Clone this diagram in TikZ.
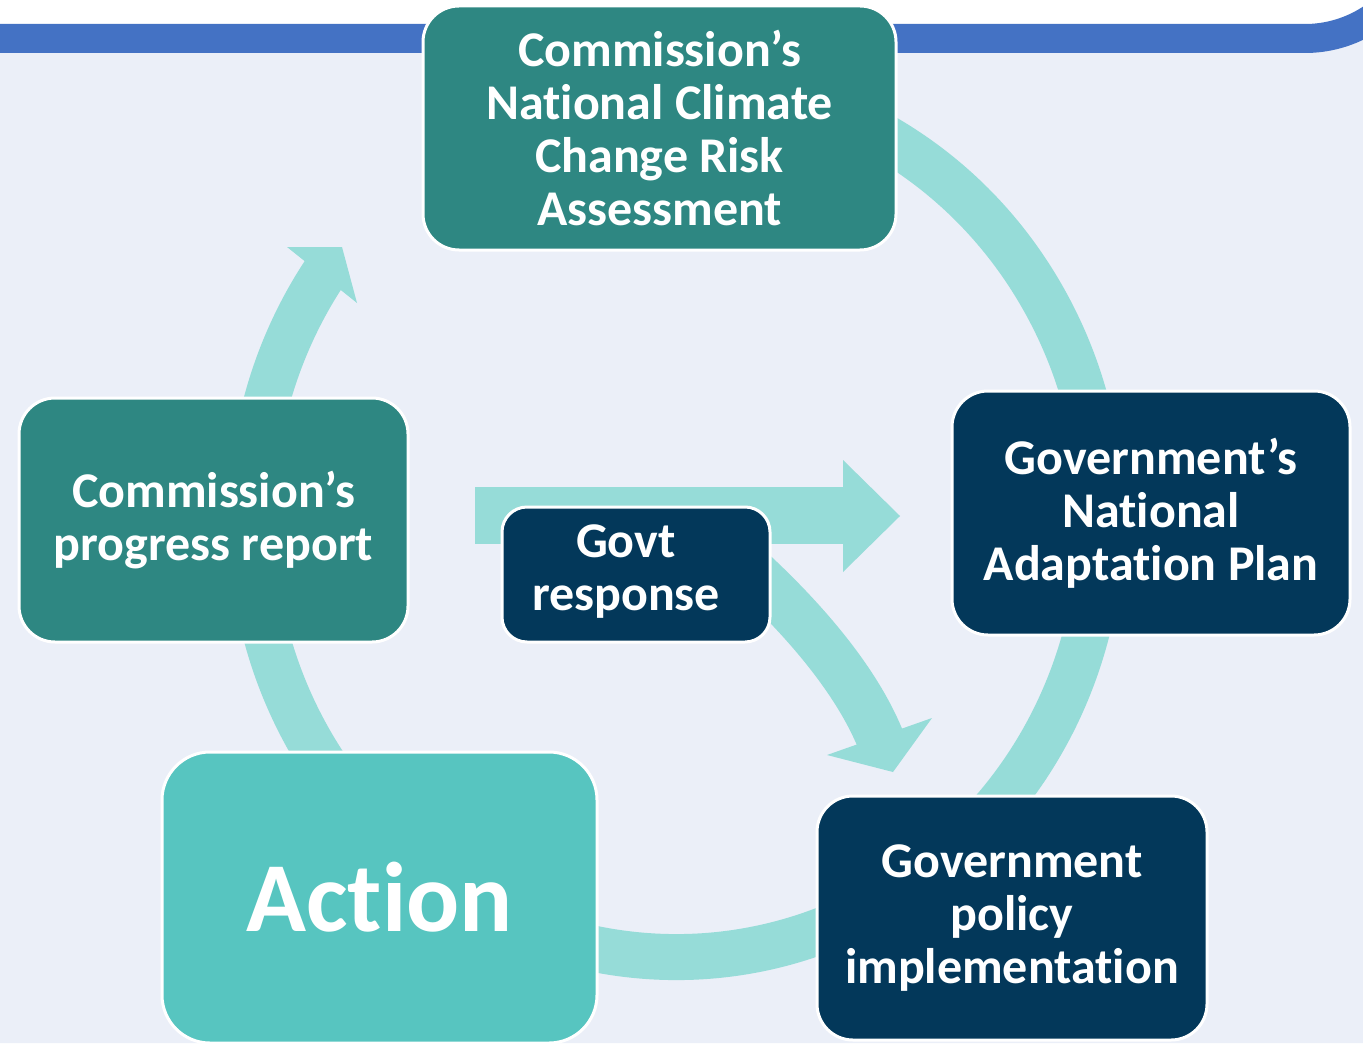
\documentclass[tikz,border=0pt]{standalone}
\usepackage{fontspec}
\setmainfont{Carlito}[Ligatures={NoCommon,NoContextual},RawFeature={-clig;-dlig}]
\usetikzlibrary{calc}
\definecolor{cbg}{HTML}{EBEFF8}
\definecolor{cbar}{HTML}{4472C4}
\definecolor{cteal}{HTML}{2E8782}
\definecolor{cnavy}{HTML}{03385A}
\definecolor{caction}{HTML}{57C5C0}
\definecolor{cband}{HTML}{96DCD8}
\begin{document}
\begin{tikzpicture}[x=0.5pt,y=-0.5pt,
  box/.style={draw=white, line width=1.5pt, rounded corners=18pt, text=white,
    align=center, inner sep=0pt, font=\fontsize{25}{26.5}\selectfont\bfseries},
  bandline/.style={draw=cband, line width=23pt},
  tipfill/.style={fill=cband}]
\useasboundingbox (0,0) rectangle (1363,1043);
\fill[white] (0,0) rectangle (1363,1043);
% background and top bar
\fill[cbg] (0,38.5) -- (1305,38.5) arc[start angle=90,end angle=30,radius=120] -- (1420,1043) -- (0,1043) -- cycle;
\draw[cbar, line width=14.5pt] (-20,38.5) -- (1305,38.5) arc[start angle=90,end angle=30,radius=120];
% cycle band
\coordinate (ctr) at (676,519);
\draw[bandline] ($(ctr)+(240:425 and 438)$) arc[start angle=240,end angle=575,x radius=425,y radius=438];
\coordinate (tipA) at (342,247);
\fill[tipfill] (287,247) -- (tipA) -- (357,303) -- cycle;
% straight arrow
\coordinate (tipB) at (900,516);
\fill[tipfill] (475,487) rectangle (846,544);
\fill[tipfill] (843,460) -- (tipB) -- (843,572) -- cycle;
% curved arrow from govt response
\coordinate (tipC) at (893,772);
\draw[draw=cband, line width=24pt] (745,565) .. controls (800,615) and (858,680) .. (882.5,744.5);
\fill[tipfill] (827,755) -- (tipC) -- (932,718) -- cycle;
% nodes
\node[box, fill=cteal, minimum width=236.5pt, minimum height=122pt] (nccra) at (659.5,128)
  {Commission’s\\National Climate\\Change Risk\\Assessment};
\node[box, fill=cnavy, minimum width=199pt, minimum height=122pt] (nap) at (1151,513)
  {Government’s\\National\\Adaptation Plan};
\node[box, fill=cnavy, minimum width=195pt, minimum height=122pt] (impl) at (1012,918)
  {Government\\policy\\implementation};
\node[box, fill=caction, minimum width=217.5pt, minimum height=145.5pt, rounded corners=24pt,
  font=\fontsize{49.5}{55}\selectfont\bfseries] (action) at (379.5,897.5) {Action};
\node[box, fill=cteal, minimum width=194.5pt, minimum height=122pt] (prog) at (213.5,520)
  {Commission’s\\progress report};
\node[box, fill=cnavy, minimum width=134pt, minimum height=67.5pt, rounded corners=12.5pt] (govt) at (636,574.5) {};
\node[text=white, align=center, inner sep=0pt, font=\fontsize{25}{26.5}\selectfont\bfseries] (govttext) at (626,572) {Govt\\response};
\end{tikzpicture}
\end{document}
